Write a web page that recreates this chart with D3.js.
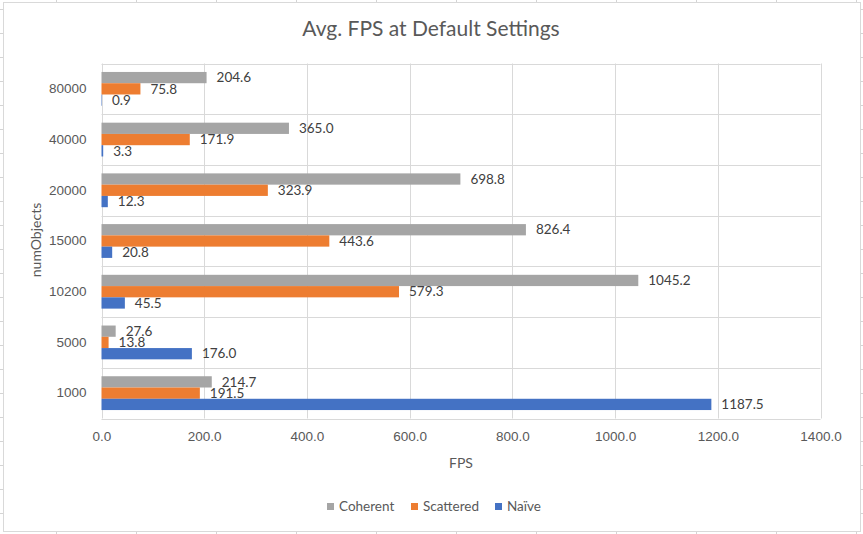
<!DOCTYPE html>
<html>
<head>
<meta charset="utf-8">
<script src="https://cdn.jsdelivr.net/npm/d3@7"></script>
<style>
  body { margin: 0; background: #fff; }
  svg { display: block; font-family: Lato, "Open Sans", sans-serif; }
</style>
</head>
<body>
<script>
const categories = ['80000', '40000', '20000', '15000', '10200', '5000', '1000']
const seriesNames = ['Coherent', 'Scattered', 'Naïve']
const coherent = [204.6, 365.0, 698.8, 826.4, 1045.2, 27.6, 214.7]
const scattered = [75.8, 171.9, 323.9, 443.6, 579.3, 13.8, 191.5]
const naive = [0.9, 3.3, 12.3, 20.8, 45.5, 176.0, 1187.5]
const xTicks = [0, 200, 400, 600, 800, 1000, 1200, 1400]
const colors = {Coherent: '#a5a5a5', Scattered: '#ed7d31', 'Naïve': '#4472c4'}

const W = 863, H = 534
const plot = {left: 101.5, right: 820.5, top: 63.5, bottom: 418.5}
const fs = 13.5

const svg = d3.select('body').append('svg')
  .attr('width', W).attr('height', H)

// spreadsheet cells peeking around the chart
const sheet = svg.append('g').attr('stroke', '#d4d4d4').attr('stroke-width', 1)
d3.range(56.5, W, 80).forEach(x => {
  sheet.append('line').attr('x1', x).attr('x2', x).attr('y1', 0).attr('y2', H)
})
d3.range(9.5, H, 24).forEach(y => {
  sheet.append('line').attr('x1', 0).attr('x2', W).attr('y1', y).attr('y2', y)
})

// chart area
svg.append('rect')
  .attr('x', 3.5).attr('y', 2.5).attr('width', 857).attr('height', 529)
  .attr('fill', '#fff').attr('stroke', '#d9d9d9')

const data = categories.map((c, i) => ({
  cat: c,
  values: [
    {name: 'Coherent', value: coherent[i]},
    {name: 'Scattered', value: scattered[i]},
    {name: 'Naïve', value: naive[i]}
  ]
}))

const xScale = d3.scaleLinear().domain([0, 1400]).range([plot.left, plot.right])
const yScale = d3.scaleBand().domain(categories)
  .range([plot.top, plot.bottom]).paddingInner(1/3).paddingOuter(1/6)
const ySub = d3.scaleBand().domain(seriesNames).range([0, yScale.bandwidth()])

// gridlines
const grid = svg.append('g').attr('stroke', '#d9d9d9').attr('stroke-width', 1)
xTicks.forEach(t => {
  const x = Math.round(xScale(t)) + 0.5
  grid.append('line').attr('x1', x).attr('x2', x).attr('y1', plot.top).attr('y2', plot.bottom)
})
const step = yScale.step()
d3.range(categories.length + 1).forEach(i => {
  const y = Math.round(plot.top + i * step) + 0.5
  grid.append('line').attr('x1', plot.left).attr('x2', plot.right).attr('y1', y).attr('y2', y)
})

// axes
const xAxis = d3.axisBottom(xScale).tickValues(xTicks).tickFormat(d3.format('.1f')).tickSize(0).tickPadding(13)
const yAxis = d3.axisLeft(yScale).tickSize(0).tickPadding(15)

svg.append('g').attr('transform', `translate(0,${plot.bottom})`).call(xAxis)
  .call(g => g.select('.domain').remove())
  .selectAll('text').attr('fill', '#595959').attr('font-size', fs)
svg.append('g').attr('transform', `translate(${plot.left},0)`).call(yAxis)
  .call(g => g.select('.domain').remove())
  .selectAll('text').attr('fill', '#595959').attr('font-size', fs)

// bars
const groups = svg.selectAll('g.cat').data(data).join('g')
  .attr('class', 'cat')
  .attr('transform', d => `translate(0,${yScale(d.cat)})`)

groups.selectAll('rect').data(d => d.values).join('rect')
  .attr('x', xScale(0))
  .attr('y', d => ySub(d.name))
  .attr('width', d => xScale(d.value) - xScale(0))
  .attr('height', ySub.bandwidth())
  .attr('fill', d => colors[d.name])

groups.selectAll('text').data(d => d.values).join('text')
  .attr('x', d => xScale(d.value) + 10)
  .attr('y', d => ySub(d.name) + ySub.bandwidth() / 2)
  .attr('dy', '0.35em')
  .attr('font-size', fs)
  .attr('fill', '#404040')
  .text(d => d3.format('.1f')(d.value))

// titles
svg.append('text').attr('x', 431).attr('y', 36).attr('text-anchor', 'middle')
  .attr('font-size', 21).attr('fill', '#595959').text('Avg. FPS at Default Settings')
svg.append('text').attr('x', 461).attr('y', 468).attr('text-anchor', 'middle')
  .attr('font-size', 14).attr('fill', '#595959').text('FPS')
svg.append('text').attr('transform', 'translate(41,240) rotate(-90)').attr('text-anchor', 'middle')
  .attr('font-size', 14).attr('fill', '#595959').text('numObjects')

// legend
const legendX = [327, 411, 495]
const legend = svg.selectAll('g.legend').data(seriesNames).join('g')
  .attr('class', 'legend')
  .attr('transform', (d, i) => `translate(${legendX[i]},503)`)
legend.append('rect').attr('width', 7).attr('height', 7).attr('fill', d => colors[d])
legend.append('text').attr('x', 12).attr('y', 3.5).attr('dy', '0.35em')
  .attr('font-size', fs).attr('fill', '#595959').text(d => d)
</script>
</body>
</html>
